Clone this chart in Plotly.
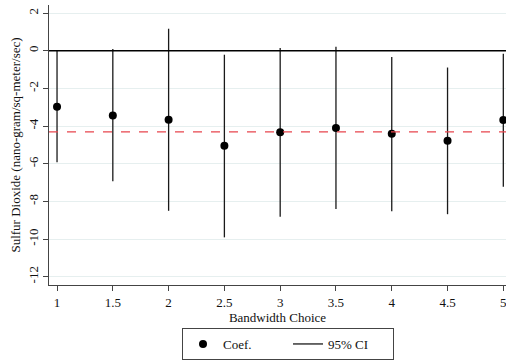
import plotly.graph_objects as go

# Bandwidth choices and estimated coefficients with 95% confidence bounds
bandwidth = [1, 1.5, 2, 2.5, 3, 3.5, 4, 4.5, 5]
coef = [-2.97, -3.44, -3.66, -5.04, -4.33, -4.10, -4.41, -4.78, -3.68]
ci_low = [-5.92, -6.93, -8.50, -9.91, -8.81, -8.41, -8.52, -8.68, -7.22]
ci_high = [0.00, 0.09, 1.17, -0.21, 0.14, 0.21, -0.33, -0.89, -0.16]
baseline_estimate = -4.31
y_ticks = [2, 0, -2, -4, -6, -8, -10, -12]
x_ticks = [1, 1.5, 2, 2.5, 3, 3.5, 4, 4.5, 5]

FONT = "Liberation Serif, Times New Roman, serif"
TEXT = "#111111"

# vertical CI spikes as one line trace separated by gaps
ci_x, ci_y = [], []
for x, lo, hi in zip(bandwidth, ci_low, ci_high):
    ci_x += [x, x, None]
    ci_y += [lo, hi, None]

fig = go.Figure()
fig.add_trace(go.Scatter(
    x=ci_x, y=ci_y, mode="lines", name="95% CI",
    line=dict(color="#1a1a1a", width=1.3), legendrank=2,
))
fig.add_trace(go.Scatter(
    x=bandwidth, y=coef, mode="markers", name="Coef.",
    marker=dict(color="black", size=8), legendrank=1, cliponaxis=False,
))

fig.add_hline(y=0, line=dict(color="black", width=1.3))
fig.add_hline(y=baseline_estimate, line=dict(color="#e8454d", width=1.3, dash="dash"))

axis_common = dict(
    showline=True, linecolor="#444444", linewidth=1.3,
    ticks="outside", ticklen=5, tickcolor="#444444", tickwidth=1.2,
    tickfont=dict(family=FONT, size=13, color=TEXT),
    zeroline=False,
)

fig.update_xaxes(
    range=[0.928, 5.024], tickvals=x_ticks, ticktext=[f"{v:g}" for v in x_ticks],
    showgrid=False, ticklabeloverflow="allow",
    title=dict(text="Bandwidth Choice", font=dict(family=FONT, size=13, color=TEXT), standoff=0),
    **axis_common,
)
fig.update_yaxes(
    range=[-12.44, 2.43], tickvals=y_ticks, ticktext=[f"{v:g}" for v in y_ticks],
    tickangle=-90, showgrid=True, gridcolor="#e6efef", gridwidth=1,
    title=dict(text="Sulfur Dioxide (nano-gram/sq-meter/sec)",
               font=dict(family=FONT, size=13, color=TEXT), standoff=2),
    **axis_common,
)

fig.update_layout(
    width=506, height=360,
    margin=dict(l=49, r=0, t=5, b=71),
    paper_bgcolor="white", plot_bgcolor="white",
    font=dict(family=FONT, size=13, color=TEXT),
    showlegend=True,
    legend=dict(
        orientation="h", x=0.523, xanchor="center", y=-0.155, yanchor="top",
        bordercolor="#444444", borderwidth=1, bgcolor="white",
        font=dict(family=FONT, size=13, color=TEXT),
        entrywidth=60, entrywidthmode="pixels", tracegroupgap=0,
    ),
)

fig.write_html("out.html")
